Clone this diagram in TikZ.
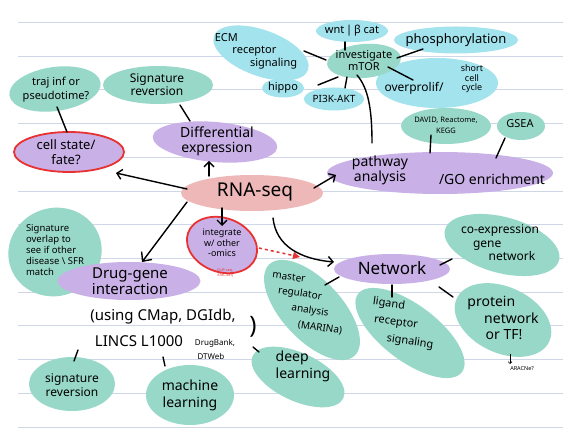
\documentclass[tikz,border=0pt]{standalone}
\usepackage{fontspec}
\setmainfont{Noto Sans}
\usetikzlibrary{arrows.meta,shapes.geometric}
\definecolor{tealb}{RGB}{152,216,200}
\definecolor{cyanb}{RGB}{162,227,237}
\definecolor{purb}{RGB}{201,177,231}
\definecolor{pinkb}{RGB}{238,184,184}
\definecolor{redl}{RGB}{232,50,50}
\definecolor{ruleln}{RGB}{206,214,232}
\newcommand\fs[2]{\fontsize{#1}{#2}\selectfont}
\begin{document}
\begin{tikzpicture}[x=1pt,y=-1pt,
  blob/.style={ellipse, fill=#1, draw=none, inner sep=0pt},
  redrim/.style={draw=redl, line width=1.8pt},
  lbl/.style={align=center, inner sep=0pt, text=black},
  con/.style={line width=1.4pt, line cap=round, black},
  arr/.style={con, -{Straight Barb[length=5pt,width=10pt,line width=1.4pt]}},
  bigarr/.style={con, -{Straight Barb[length=7pt,width=13pt,line width=1.4pt]}}]
\useasboundingbox (0,0) rectangle (573,435);
\fill[white] (0,0) rectangle (573,435);
\foreach \yy in {22,56,89,123,157,191,224,258,292,325,359,393,427}
  \draw[ruleln, line width=0.9pt] (18,\yy) -- (563,\yy);

% ---------- blobs ----------
\node[blob=tealb, minimum width=92pt, minimum height=44pt, rotate=8] (traj) at (55,89) {};
\node[blob=tealb, minimum width=110pt, minimum height=38pt] (sigrevtop) at (158,85) {};
\node[blob=purb, redrim, minimum width=110pt, minimum height=40pt] (cell) at (69,152) {};
\node[blob=purb, minimum width=125pt, minimum height=40pt, rotate=-5] (diff) at (215,142) {};
\node[blob=cyanb, minimum width=100pt, minimum height=46pt, rotate=-20] (ecm) at (261,53) {};
\node[blob=cyanb, minimum width=42pt, minimum height=19pt] (hippo) at (283,88) {};
\node[blob=cyanb, minimum width=72pt, minimum height=22pt] (wnt) at (352,31) {};
\node[blob=cyanb, minimum width=124pt, minimum height=27pt] (phos) at (456,40) {};
\node[blob=cyanb, minimum width=122pt, minimum height=50pt] (overp) at (437,83) {};
\node[blob=tealb, minimum width=74pt, minimum height=34pt, rotate=5] (mtor) at (364,61) {};
\node[blob=cyanb, minimum width=60pt, minimum height=23pt] (pi3k) at (334,99) {};
\node[blob=tealb, minimum width=90pt, minimum height=36pt] (david) at (446,126) {};
\node[blob=tealb, minimum width=48pt, minimum height=28pt] (gsea) at (521,126) {};
\node[blob=purb, minimum width=226pt, minimum height=42pt] (path) at (440,173) {};
\node[blob=pinkb, minimum width=142pt, minimum height=36pt] (rna) at (252,193) {};
\node[blob=purb, redrim, minimum width=72pt, minimum height=54pt, rotate=-20] (integ) at (222,245) {};
\node[blob=tealb, minimum width=94pt, minimum height=88pt, rotate=20] (sigov) at (55,252) {};
\node[blob=purb, minimum width=143pt, minimum height=38pt] (drug) at (129,281) {};
\node[blob=tealb, minimum width=86pt, minimum height=54pt] (sigrevbot) at (72,384) {};
\node[blob=tealb, minimum width=88pt, minimum height=60pt] (ml) at (190,395) {};
\node[blob=tealb, minimum width=125pt, minimum height=60pt, rotate=-47] (master) at (312,310) {};
\node[blob=tealb, minimum width=100pt, minimum height=48pt, rotate=-25] (deep) at (298,377) {};
\node[blob=purb, minimum width=116pt, minimum height=30pt] (network) at (392,269) {};
\node[blob=tealb, minimum width=118pt, minimum height=56pt, rotate=-15] (coex) at (502,245) {};
\node[blob=tealb, minimum width=130pt, minimum height=56pt, rotate=-37] (lig) at (410,333) {};
\node[blob=tealb, minimum width=102pt, minimum height=66pt, rotate=-25] (prot) at (503,320) {};

% ---------- labels ----------
\node[lbl, font=\fs{11}{14}] at (56,90) {traj inf or\\pseudotime?};
\node[lbl, font=\fs{12}{13}] at (157,85) {Signature\\reversion};
\node[lbl, font=\fs{13}{15}] at (66,152) {cell state/\\fate?};
\node[lbl, font=\fs{14}{15}] at (217,141) {Differential\\expression};
\node[lbl, font=\fs{11}{12.5}, align=left] at (256,51) {ECM\\\hspace*{1.6em}receptor\\\hspace*{3.2em}signaling};
\node[lbl, font=\fs{11}{12}] at (283,88) {hippo};
\node[lbl, font=\fs{11}{12}] at (352,31) {wnt\,|\,β cat};
\node[lbl, font=\fs{11}{12}] at (364,61) {investigate\\mTOR};
\node[lbl, font=\fs{13}{14}] at (456,40) {phosphorylation};
\node[lbl, font=\fs{12}{13}] at (414,88) {overprolif/};
\node[lbl, font=\fs{9}{9.5}] at (472,79) {short\\cell\\cycle};
\node[lbl, font=\fs{10}{11}] at (334,99) {PI3K-AKT};
\node[lbl, font=\fs{7.5}{11}] at (446,125) {DAVID, Reactome,\\KEGG};
\node[lbl, font=\fs{11}{12}] at (520,124) {GSEA};
\node[lbl, font=\fs{14}{15}] at (380,170) {pathway\\analysis};
\node[lbl, font=\fs{14}{15}] at (492,179) {/GO enrichment};
\node[lbl, font=\fs{19}{20}] at (255,192) {RNA-seq};
\node[lbl, font=\fs{9}{10.5}] at (222,243) {integrate\\w/ other\\-omics};
\node[lbl, font=\fs{3.6}{4.5}, text=redl] at (225,273) {ChIP-seq,\\ATAC-seq};
\node[lbl, font=\fs{9.5}{11}, align=left] at (55,250) {Signature\\overlap to\\see if other\\disease \textbackslash\ SFR\\match};
\node[lbl, font=\fs{15}{16}] at (130,281) {Drug-gene\\interaction};
\node[lbl, font=\fs{15}{16}] (list) at (163,317) {(using CMap, DGIdb,};
\node[lbl, font=\fs{15}{16}] at (139,341) {LINCS L1000};
\node[lbl, font=\fs{8}{9}] at (215,343) {DrugBank,};
\node[lbl, font=\fs{8}{9}] at (211,357) {DTWeb};
\node[lbl, font=\fs{24}{24}] at (253,327) {)};
\node[lbl, font=\fs{12}{14}] at (72,385) {signature\\reversion};
\node[lbl, font=\fs{14}{17}] at (190,395) {machine\\learning};
\node[lbl, font=\fs{14}{17}, align=left] at (303,366) {deep\\learning};
% master regulator analysis (slanted, one node per line)
\node[lbl, font=\fs{10}{11}, rotate=-8] at (289,277) {master};
\node[lbl, font=\fs{10}{11}, rotate=-8] at (300,294) {regulator};
\node[lbl, font=\fs{10}{11}, rotate=-8] at (310,311) {analysis};
\node[lbl, font=\fs{10}{11}, rotate=-8] at (320,328) {(MARINa)};
\node[lbl, font=\fs{17}{18}] at (392,268) {Network};
\node[lbl, font=\fs{12}{13.5}, align=left] at (500,243) {co-expression\\\hspace*{1em}gene\\\hspace*{2.3em}network};
% ligand receptor signaling (slanted, one node per line)
\node[lbl, font=\fs{11}{12}, rotate=-8] at (389,304) {ligand};
\node[lbl, font=\fs{11}{12}, rotate=-8] at (396,323) {receptor};
\node[lbl, font=\fs{11}{12}, rotate=-8] at (410,342) {signaling};
\node[lbl, font=\fs{14}{16.5}, align=left] at (503,318) {protein\\\hspace*{1.2em}network\\\hspace*{1.3em}or TF!};
\node[lbl, font=\fs{5.5}{6}] (aracne) at (522,369) {ARACNe?};

% ---------- connector end points ----------
\coordinate (c1a) at (187,189); \coordinate (c1b) at (116,173);
\coordinate (c2a) at (209,176); \coordinate (c2b) at (209,161);
\coordinate (c3a) at (314,188); \coordinate (c3b) at (336,175);
\coordinate (c4a) at (187,202); \coordinate (c4b) at (142,262);
\coordinate (c5a) at (222,208); \coordinate (c5b) at (222,226);
\coordinate (c6a) at (273,218); \coordinate (c6b) at (334,262);
\coordinate (c7a) at (259,248); \coordinate (c7b) at (300,257);
\coordinate (c8a) at (180,105); \coordinate (c8b) at (190,121);
\coordinate (c9a) at (57,107);  \coordinate (c9b) at (67,132);
\coordinate (c10a) at (304,51); \coordinate (c10b) at (326,60);
\coordinate (c11a) at (345,42); \coordinate (c11b) at (345,50);
\coordinate (c12a) at (318,85); \coordinate (c12b) at (338,77);
\coordinate (c13a) at (347,77); \coordinate (c13b) at (345,88);
\coordinate (c14a) at (397,58); \coordinate (c14b) at (423,49);
\coordinate (c15a) at (388,67); \coordinate (c15b) at (413,80);
\coordinate (c16a) at (357,75); \coordinate (c16b) at (372,143);
\coordinate (c17a) at (431,135); \coordinate (c17b) at (430,153);
\coordinate (c18a) at (505,138); \coordinate (c18b) at (496,158);
\coordinate (c20a) at (78,350); \coordinate (c20b) at (74,361);
\coordinate (c21a) at (163,357); \coordinate (c21b) at (165,366);
\coordinate (c22a) at (253,347); \coordinate (c22b) at (259,352);
\coordinate (c23a) at (325,285); \coordinate (c23b) at (339,277);
\coordinate (c24a) at (392,285); \coordinate (c24b) at (392,297);
\coordinate (c25a) at (440,265); \coordinate (c25b) at (452,259);
\coordinate (c26a) at (439,287); \coordinate (c26b) at (453,297);
\coordinate (c27a) at (510,354); \coordinate (c27b) at (510,364);

% ---------- connectors ----------
\draw[arr] (c1a) -- (c1b);
\draw[arr] (c2a) -- (c2b);
\draw[arr] (c3a) -- (c3b);
\draw[bigarr] (c4a) -- (c4b);
\draw[arr] (c5a) -- (c5b);
\draw[arr] (c6a) .. controls (276,246) and (300,259) .. (c6b);
\draw[redl, line width=1.5pt, dash pattern=on 3pt off 3pt, -{Triangle[length=7pt,width=7pt]}] (c7a) -- (c7b);
\draw[con] (c8a) -- (c8b);
\draw[con] (c9a) -- (c9b);
\draw[con] (c10a) -- (c10b);
\draw[con] (c11a) -- (c11b);
\draw[con] (c12a) -- (c12b);
\draw[con] (c13a) -- (c13b);
\draw[con] (c14a) -- (c14b);
\draw[con] (c15a) -- (c15b);
\draw[con] (c16a) .. controls (368,88) and (372,108) .. (c16b);
\draw[con] (c17a) -- (c17b);
\draw[con] (c18a) -- (c18b);
\draw[con] (c20a) -- (c20b);
\draw[con] (c21a) -- (c21b);
\draw[con] (c22a) -- (c22b);
\draw[con] (c23a) -- (c23b);
\draw[con] (c24a) -- (c24b);
\draw[con] (c25a) -- (c25b);
\draw[con] (c26a) -- (c26b);
\draw[line width=0.6pt, -{Straight Barb[length=2pt,width=4pt]}] (c27a) -- (c27b);
\end{tikzpicture}
\end{document}
